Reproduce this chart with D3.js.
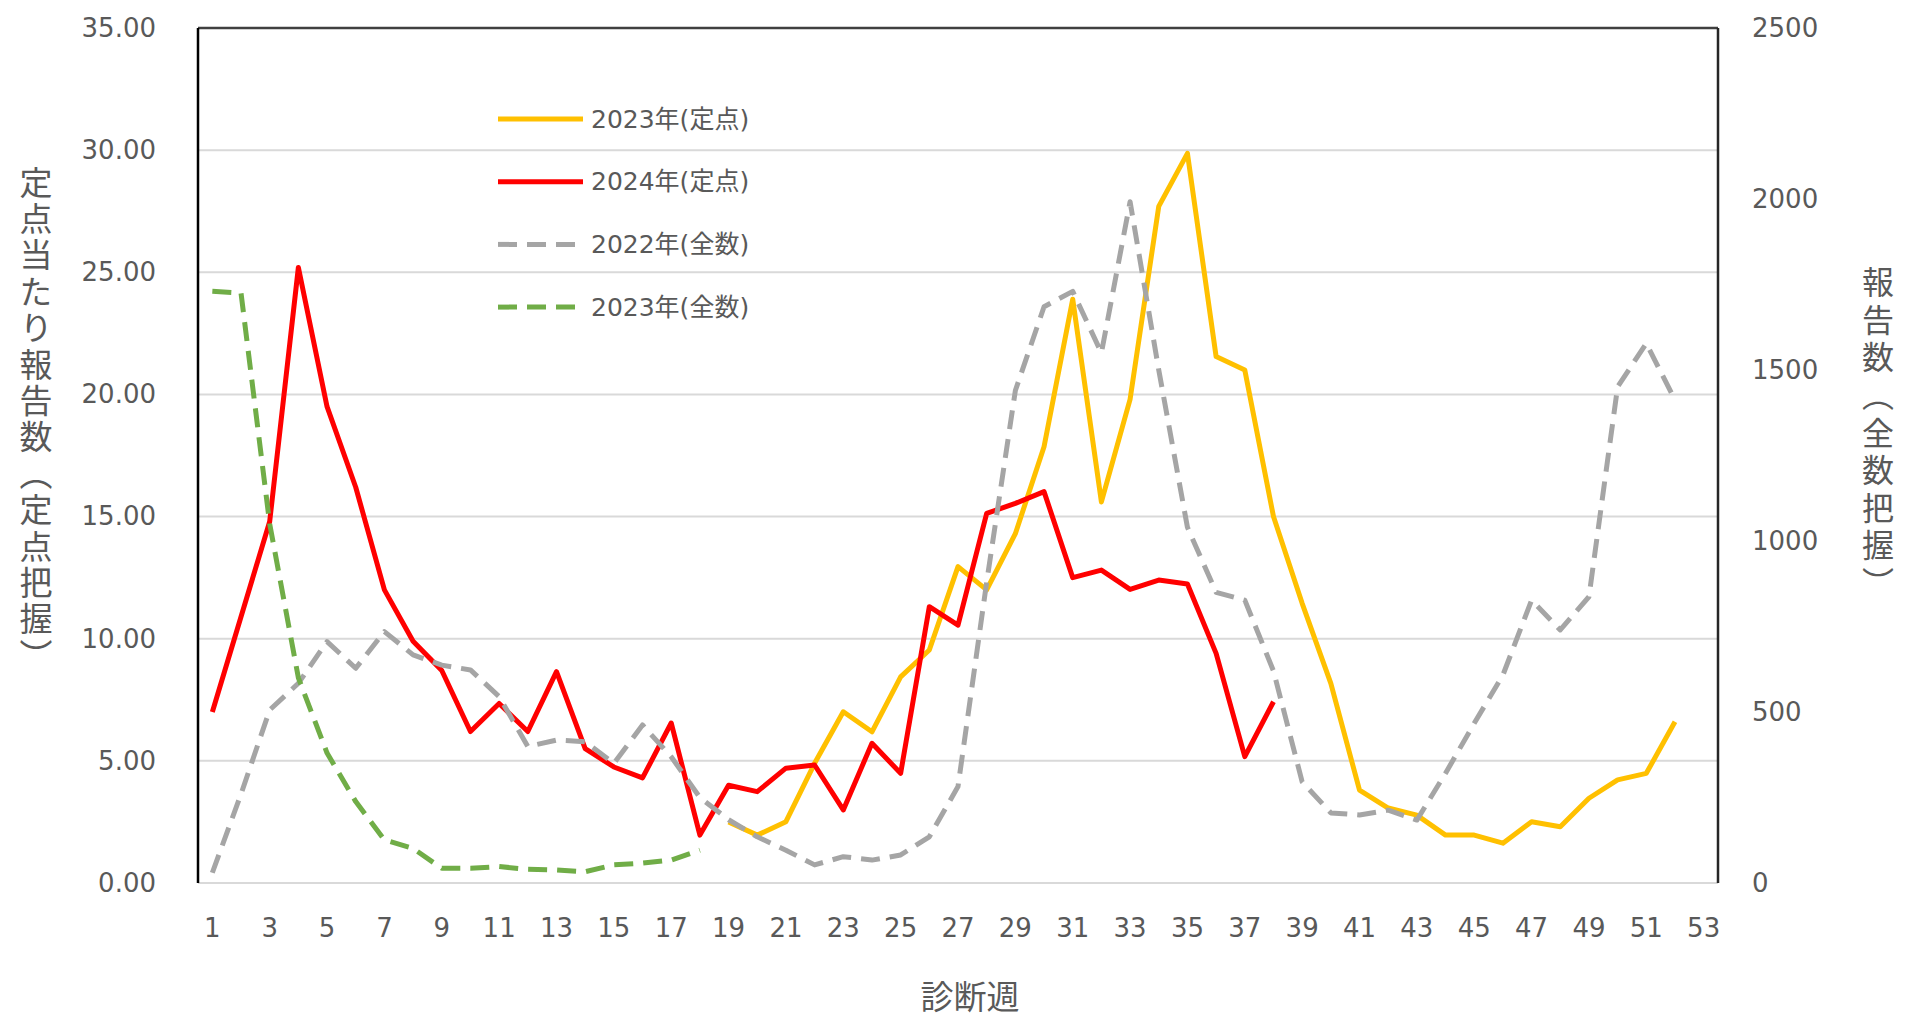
<!DOCTYPE html>
<html>
<head>
<meta charset="utf-8">
<script src="https://cdn.jsdelivr.net/npm/d3@7"></script>
<style>
  body { margin: 0; background: #fff; }
  svg { display: block; }
</style>
</head>
<body>
<div id="chart"></div>
<script>
// 診断週 (1〜53)
const weeks = d3.range(1, 54);
const weekTicks = weeks.filter(w => w % 2 === 1);

// 定点当たり報告数 (左軸)
const teiten2023Weeks = d3.range(19, 53);
const teiten2023 = [2.5, 1.96, 2.51, 4.9, 7.01, 6.19, 8.44, 9.54, 12.95, 12.0, 14.3, 17.86, 23.9, 15.6, 19.8, 27.7, 29.87, 21.55, 21.0, 15.0, 11.45, 8.17, 3.8, 3.07, 2.78, 1.96, 1.96, 1.63, 2.51, 2.30, 3.47, 4.22, 4.49, 6.6];
const teiten2024Weeks = d3.range(1, 39);
const teiten2024 = [7.0, 10.9, 14.8, 25.2, 19.5, 16.2, 12.0, 9.9, 8.7, 6.2, 7.35, 6.2, 8.65, 5.5, 4.75, 4.3, 6.55, 1.96, 4.0, 3.74, 4.7, 4.83, 2.99, 5.72, 4.49, 11.31, 10.56, 15.13, 15.54, 16.02, 12.5, 12.81, 12.02, 12.4, 12.24, 9.4, 5.17, 7.42];

// 報告数（全数把握） (右軸)
const zensu2022Weeks = d3.range(1, 53);
const zensu2022 = [30, 260, 506, 584, 706, 628, 735, 667, 637, 623, 545, 399, 418, 413, 350, 462, 369, 250, 185, 135, 96, 53, 77, 67, 82, 135, 282, 880, 1440, 1685, 1730, 1550, 1992, 1500, 1040, 850, 827, 620, 296, 205, 199, 213, 184, 321, 467, 608, 827, 740, 837, 1451, 1578, 1412];
const zensu2023Weeks = d3.range(1, 19);
const zensu2023 = [1730, 1725, 1050, 600, 380, 238, 126, 101, 43, 43, 48, 40, 38, 33, 53, 58, 67, 96];

const leftTicks = [0, 5, 10, 15, 20, 25, 30, 35];
const rightTicks = [0, 500, 1000, 1500, 2000, 2500];

const series = [
    { name: "2023年(定点)", weeks: teiten2023Weeks, values: teiten2023, axis: "left", color: "#FFC000", dash: null },
    { name: "2024年(定点)", weeks: teiten2024Weeks, values: teiten2024, axis: "left", color: "#FF0000", dash: null },
    { name: "2022年(全数)", weeks: zensu2022Weeks, values: zensu2022, axis: "right", color: "#A5A5A5", dash: "19,10" },
    { name: "2023年(全数)", weeks: zensu2023Weeks, values: zensu2023, axis: "right", color: "#70AD47", dash: "19,10" }
];

const W = 1905, H = 1019;
const plot = { left: 198, right: 1718, top: 28, bottom: 883 };
const textColor = "#595959";
const numFont = "'DejaVu Sans', 'Noto Sans CJK JP', sans-serif";
const jpFont = "'Noto Sans CJK JP', sans-serif";

const svg = d3.select("#chart").append("svg")
    .attr("width", W)
    .attr("height", H);

const x = d3.scaleBand().domain(weeks).range([plot.left, plot.right]).padding(0);
const yL = d3.scaleLinear().domain([0, 35]).range([plot.bottom, plot.top]);
const yR = d3.scaleLinear().domain([0, 2500]).range([plot.bottom, plot.top]);
const cx = w => x(w) + x.bandwidth() / 2;

// グリッド線
svg.append("g")
    .selectAll("line")
    .data(leftTicks.filter(d => d < 35))
    .enter()
    .append("line")
    .attr("x1", plot.left)
    .attr("x2", plot.right)
    .attr("y1", d => yL(d))
    .attr("y2", d => yL(d))
    .attr("stroke", "#D9D9D9")
    .attr("stroke-width", 2);

// 枠線
svg.append("line")
    .attr("x1", plot.left).attr("x2", plot.right)
    .attr("y1", plot.top).attr("y2", plot.top)
    .attr("stroke", "#404040").attr("stroke-width", 2.5);
svg.append("line")
    .attr("x1", plot.right).attr("x2", plot.right)
    .attr("y1", plot.top).attr("y2", plot.bottom)
    .attr("stroke", "#262626").attr("stroke-width", 2.5);
svg.append("line")
    .attr("x1", plot.left).attr("x2", plot.left)
    .attr("y1", plot.top).attr("y2", plot.bottom)
    .attr("stroke", "#000").attr("stroke-width", 2.5);

// 軸
const styleAxis = g => {
    g.select(".domain").remove();
    g.selectAll(".tick line").remove();
    g.selectAll("text")
        .attr("fill", textColor)
        .style("font-family", numFont)
        .style("font-size", "26px");
};

svg.append("g")
    .attr("transform", `translate(${plot.left},0)`)
    .call(d3.axisLeft(yL).tickValues(leftTicks).tickFormat(d3.format(".2f")).tickSize(0).tickPadding(42))
    .call(styleAxis);

svg.append("g")
    .attr("transform", `translate(${plot.right},0)`)
    .call(d3.axisRight(yR).tickValues(rightTicks).tickFormat(d3.format("d")).tickSize(0).tickPadding(34))
    .call(styleAxis);

svg.append("g")
    .attr("transform", `translate(0,${plot.bottom})`)
    .call(d3.axisBottom(x).tickValues(weekTicks).tickSize(0).tickPadding(36))
    .call(styleAxis);

// 折れ線
const lineFor = s => d3.line()
    .x((d, i) => cx(s.weeks[i]))
    .y(d => (s.axis === "left" ? yL(d) : yR(d)));

svg.append("g")
    .selectAll("path")
    .data(series)
    .enter()
    .append("path")
    .attr("d", s => lineFor(s)(s.values))
    .attr("fill", "none")
    .attr("stroke", s => s.color)
    .attr("stroke-width", 5)
    .attr("stroke-linejoin", "round")
    .attr("stroke-dasharray", s => s.dash);

// 凡例
const legend = svg.append("g")
    .selectAll("g")
    .data(series)
    .enter()
    .append("g")
    .attr("transform", (d, i) => `translate(498,${119 + i * 62.7})`);

legend.append("line")
    .attr("x1", 0).attr("x2", 85)
    .attr("y1", 0).attr("y2", 0)
    .attr("stroke", d => d.color)
    .attr("stroke-width", 5)
    .attr("stroke-dasharray", d => d.dash);

legend.append("text")
    .attr("x", 93)
    .attr("y", 0)
    .attr("dominant-baseline", "central")
    .attr("fill", textColor)
    .style("font-family", numFont)
    .style("font-size", "25px")
    .text(d => d.name);

// 軸タイトル
svg.append("text")
    .attr("x", 970)
    .attr("y", 995)
    .attr("text-anchor", "middle")
    .attr("dominant-baseline", "central")
    .attr("fill", textColor)
    .style("font-family", jpFont)
    .style("font-size", "33px")
    .text("診断週");

// 縦書きタイトル (1文字ずつ配置)
function verticalTitle(str, xPos, yStart, pitch, size) {
    svg.append("g")
        .selectAll("text")
        .data(Array.from(str))
        .enter()
        .append("text")
        .attr("x", xPos)
        .attr("y", (d, i) => yStart + i * pitch)
        .attr("text-anchor", "middle")
        .attr("fill", textColor)
        .style("font-family", jpFont)
        .style("font-size", size + "px")
        .style("writing-mode", "vertical-rl")
        .text(d => d);
}

verticalTitle("定点当たり報告数（定点把握）", 36, 182, 36.4, 33);
verticalTitle("報告数（全数把握）", 1878, 282, 37.6, 32);
</script>
</body>
</html>
